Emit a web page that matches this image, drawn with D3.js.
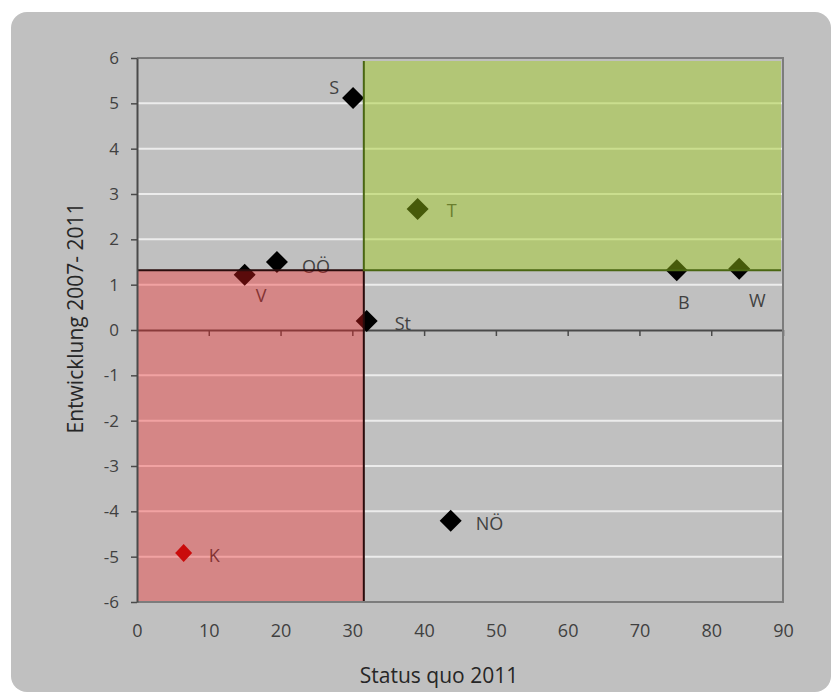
<!DOCTYPE html>
<html>
<head>
<meta charset="utf-8">
<script src="https://cdn.jsdelivr.net/npm/d3@7"></script>
<style>
  html, body { margin: 0; padding: 0; background: #ffffff; }
  svg { display: block; }
  text { font-family: "Open Sans", "DejaVu Sans", sans-serif; }
</style>
</head>
<body>
<svg id="chart" width="833" height="693"></svg>
<script>
// ---- data ----
const regions = ["S", "OÖ", "V", "St", "T", "B", "W", "NÖ", "K"];
const statusQuo2011 = [30.1, 19.5, 15.0, 32.0, 39.1, 75.2, 83.9, 43.7, 6.5];
const entwicklung0711 = [5.12, 1.50, 1.22, 0.20, 2.67, 1.32, 1.35, -4.21, -4.92];
const xThreshold = [31.6];
const yThreshold = [1.32];
const xTicks = [0, 10, 20, 30, 40, 50, 60, 70, 80, 90];
const yTicks = [-6, -5, -4, -3, -2, -1, 0, 1, 2, 3, 4, 5, 6];
const xTitle = "Status quo 2011";
const yTitle = "Entwicklung 2007- 2011";

const points = regions.map((r, i) => ({ label: r, x: statusQuo2011[i], y: entwicklung0711[i] }));

// ---- layout / style ----
const svg = d3.select("#chart");
const plot = { left: 137, right: 783, top: 58, bottom: 602 };
const x = d3.scaleLinear().domain([d3.min(xTicks), d3.max(xTicks)]).range([plot.left, plot.right]);
const y = d3.scaleLinear().domain([d3.min(yTicks), d3.max(yTicks)]).range([plot.bottom, plot.top]);

const labelPlacement = {
  "S":  { dx: -14, dy: -4, anchor: "end" },
  "OÖ": { dx: 25, dy: 11, anchor: "start" },
  "V":  { dx: 11, dy: 27, anchor: "start" },
  "St": { dx: 28, dy: 9, anchor: "start" },
  "T":  { dx: 29, dy: 8, anchor: "start" },
  "B":  { dx: 7, dy: 39, anchor: "middle" },
  "W":  { dx: 18, dy: 38, anchor: "middle" },
  "NÖ": { dx: 25, dy: 9, anchor: "start" },
  "K":  { dx: 25, dy: 9, anchor: "start" }
};

// background panel
svg.append("rect")
  .attr("x", 11).attr("y", 12).attr("width", 820).attr("height", 680)
  .attr("rx", 16).attr("ry", 16)
  .attr("fill", "#c0c0c0");

// gridlines
svg.append("g").selectAll("line")
  .data(yTicks.filter(v => v !== 0 && v !== d3.max(yTicks) && v !== d3.min(yTicks)))
  .join("line")
  .attr("x1", plot.left).attr("x2", plot.right)
  .attr("y1", d => y(d)).attr("y2", d => y(d))
  .attr("stroke", "#ececec").attr("stroke-width", 2);

// x axis at zero line (ticks only)
const xAxisZero = svg.append("g")
  .attr("transform", `translate(0,${y(0)})`)
  .call(d3.axisBottom(x).tickValues(xTicks.filter(v => v !== 0)).tickSize(6).tickSizeOuter(0).tickFormat(""));
xAxisZero.select(".domain").attr("stroke", "#4a4a4a").attr("stroke-width", 2);
xAxisZero.selectAll(".tick line").attr("stroke", "#4a4a4a").attr("stroke-width", 1.5);

// markers
const diamond = (w, h) => `M0,${-h}L${w},0L0,${h}L${-w},0Z`;
svg.append("g").selectAll("path")
  .data(points)
  .join("path")
  .attr("transform", d => `translate(${x(d.x)},${y(d.y)})`)
  .attr("d", d => d.label === "K" ? diamond(8.5, 9) : diamond(11, 11))
  .attr("fill", d => d.label === "K" ? "#b00000" : "#000000");

// point labels
svg.append("g").selectAll("text")
  .data(points)
  .join("text")
  .attr("x", d => x(d.x) + labelPlacement[d.label].dx)
  .attr("y", d => y(d.y) + labelPlacement[d.label].dy)
  .attr("text-anchor", d => labelPlacement[d.label].anchor)
  .attr("font-size", 18)
  .attr("fill", "#404040")
  .text(d => d.label);

// quadrant overlays
const xt = x(xThreshold[0]), yt = y(yThreshold[0]);
svg.append("rect")
  .attr("x", x(0) + 1).attr("y", yt)
  .attr("width", xt - x(0) - 1).attr("height", y(d3.min(yTicks)) - yt)
  .attr("fill", "rgb(250,30,30)").attr("fill-opacity", 0.36);
svg.append("rect")
  .attr("x", xt).attr("y", y(d3.max(yTicks)) + 3)
  .attr("width", x(d3.max(xTicks)) - xt - 2).attr("height", yt - y(d3.max(yTicks)) - 3)
  .attr("fill", "rgb(159,205,23)").attr("fill-opacity", 0.44);
// overlay borders
svg.append("path")
  .attr("d", `M${x(0)},${yt}H${xt}V${y(d3.min(yTicks))}`)
  .attr("fill", "none").attr("stroke", "#2a0c0c").attr("stroke-width", 2);
svg.append("path")
  .attr("d", `M${xt},${y(d3.max(yTicks)) + 3}V${yt}H${x(d3.max(xTicks)) - 2}`)
  .attr("fill", "none").attr("stroke", "#4a6612").attr("stroke-width", 2);

// plot border (top, right, bottom)
svg.append("path")
  .attr("d", `M${plot.left},${plot.top}H${plot.right}V${plot.bottom}H${plot.left}`)
  .attr("fill", "none").attr("stroke", "#7c7c7c").attr("stroke-width", 2);

// y axis
const yAxis = svg.append("g")
  .attr("transform", `translate(${plot.left},0)`)
  .call(d3.axisLeft(y).tickValues(yTicks).tickSize(6).tickSizeOuter(0).tickPadding(12).tickFormat(d => String(d)));
yAxis.select(".domain").attr("stroke", "#4a4a4a").attr("stroke-width", 2);
yAxis.selectAll(".tick line").attr("stroke", "#4a4a4a").attr("stroke-width", 1.5);
yAxis.selectAll(".tick text").attr("font-size", 17).attr("fill", "#404040")
  .style("font-family", "'Open Sans', sans-serif");

// x tick labels along bottom
const xAxis = svg.append("g")
  .attr("transform", `translate(0,${plot.bottom})`)
  .call(d3.axisBottom(x).tickValues(xTicks).tickSize(0).tickPadding(22).tickFormat(d => String(d)));
xAxis.select(".domain").remove();
xAxis.selectAll(".tick text").attr("font-size", 18).attr("fill", "#404040")
  .style("font-family", "'Open Sans', sans-serif");

// axis titles
svg.append("text")
  .attr("x", 439).attr("y", 683)
  .attr("text-anchor", "middle")
  .attr("font-size", 21).attr("fill", "#262626")
  .text(xTitle);
svg.append("text")
  .attr("transform", "translate(83,318) rotate(-90)")
  .attr("text-anchor", "middle")
  .attr("font-size", 21).attr("fill", "#262626")
  .text(yTitle);
</script>
</body>
</html>
